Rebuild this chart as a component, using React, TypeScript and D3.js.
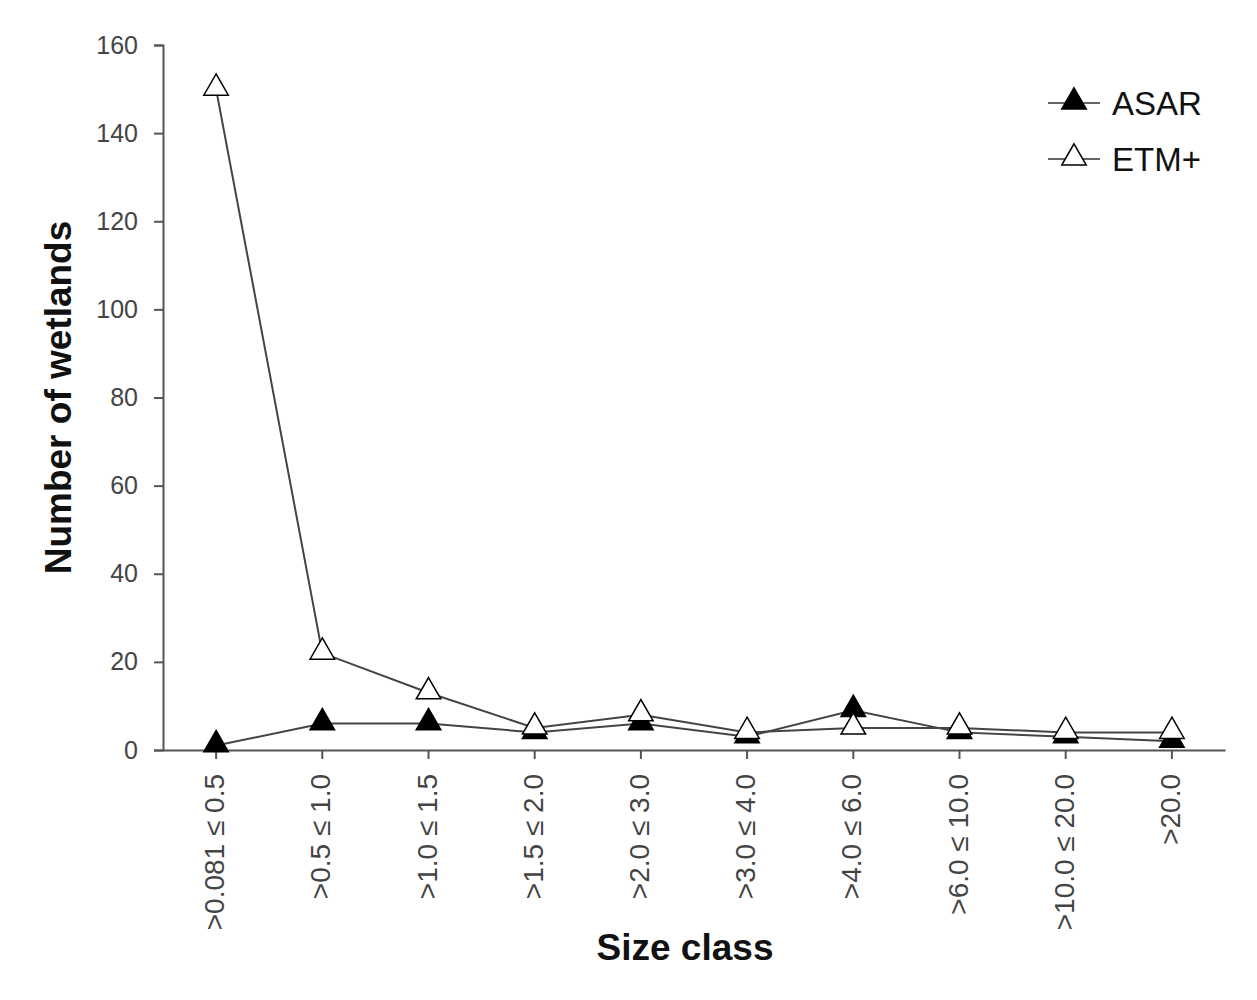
import React, { useEffect, useRef } from 'react';
import * as d3 from 'd3';

const categories = [
    '>0.081 ≤ 0.5', '>0.5 ≤ 1.0', '>1.0 ≤ 1.5', '>1.5 ≤ 2.0', '>2.0 ≤ 3.0',
    '>3.0 ≤ 4.0', '>4.0 ≤ 6.0', '>6.0 ≤ 10.0', '>10.0 ≤ 20.0', '>20.0',
];
const asar = [1, 6, 6, 4, 6, 3, 9, 4, 3, 2];
const etm = [150, 22, 13, 5, 8, 4, 5, 5, 4, 4];
const yTicks = [0, 20, 40, 60, 80, 100, 120, 140, 160];

const width = 1257;
const height = 1000;
const margin = { left: 163, right: 32, top: 45, bottom: 250 };

const App: React.FC = () => {
    const ref = useRef<SVGSVGElement>(null);

    useEffect(() => {
        document.body.style.margin = '0';
        const svg = d3.select(ref.current);
        svg.selectAll('*').remove();

        const x = d3.scaleBand()
            .domain(categories)
            .range([margin.left, width - margin.right]);
        const y = d3.scaleLinear()
            .domain([0, 160])
            .range([height - margin.bottom, margin.top]);

        const font = 'Liberation Sans, Arial, sans-serif';
        const axisColor = '#555';
        const cx = (c: string) => (x(c) as number) + x.bandwidth() / 2;

        // y axis
        const yAxis = svg.append('g')
            .attr('transform', `translate(${margin.left},0)`)
            .call(d3.axisLeft(y).tickValues(yTicks).tickSize(9).tickPadding(16));
        yAxis.select('.domain').attr('stroke', axisColor).attr('stroke-width', 2);
        yAxis.selectAll('line').attr('stroke', axisColor).attr('stroke-width', 2);
        yAxis.selectAll('text')
            .attr('font-family', font).attr('font-size', 25).attr('fill', '#444');

        // x axis
        const xAxis = svg.append('g')
            .attr('transform', `translate(0,${height - margin.bottom})`)
            .call(d3.axisBottom(x).tickSize(9).tickSizeOuter(0).tickFormat(() => ''));
        xAxis.select('.domain').attr('stroke', axisColor).attr('stroke-width', 2);
        xAxis.selectAll('line').attr('stroke', axisColor).attr('stroke-width', 2);

        svg.append('g')
            .selectAll('text')
            .data(categories)
            .enter()
            .append('text')
            .attr('transform', d => `translate(${cx(d) + 8},${height - margin.bottom + 24}) rotate(-90)`)
            .attr('text-anchor', 'end')
            .attr('font-family', font)
            .attr('font-size', 28)
            .attr('fill', '#444')
            .text(d => d);

        // titles
        svg.append('text')
            .attr('transform', `translate(71,${(margin.top + height - margin.bottom) / 2}) rotate(-90)`)
            .attr('text-anchor', 'middle')
            .attr('font-family', font)
            .attr('font-size', 37)
            .attr('font-weight', 'bold')
            .attr('fill', '#111')
            .text('Number of wetlands');

        svg.append('text')
            .attr('x', 685)
            .attr('y', 960)
            .attr('text-anchor', 'middle')
            .attr('font-family', font)
            .attr('font-size', 37)
            .attr('font-weight', 'bold')
            .attr('fill', '#111')
            .text('Size class');

        const line = d3.line<number>()
            .x((d, i) => cx(categories[i]))
            .y(d => y(d));

        const tri = d3.symbol().type(d3.symbolTriangle).size(260);

        const series = [
            { name: 'ASAR', values: asar, fill: '#000' },
            { name: 'ETM+', values: etm, fill: '#fff' },
        ];

        series.forEach(s => {
            svg.append('path')
                .datum(s.values)
                .attr('d', line)
                .attr('fill', 'none')
                .attr('stroke', '#444')
                .attr('stroke-width', 2);
        });

        series.forEach(s => {
            svg.append('g')
                .selectAll('path')
                .data(s.values)
                .enter()
                .append('path')
                .attr('d', tri)
                .attr('transform', (d, i) => `translate(${cx(categories[i])},${y(d) - 1})`)
                .attr('fill', s.fill)
                .attr('stroke', '#000')
                .attr('stroke-width', 1.5);
        });

        // legend
        const legend = svg.append('g')
            .selectAll('g')
            .data(series)
            .enter()
            .append('g')
            .attr('transform', (d, i) => `translate(1048,${103 + i * 56})`);

        legend.append('line')
            .attr('x1', 0).attr('x2', 52)
            .attr('stroke', '#666').attr('stroke-width', 2);

        legend.append('path')
            .attr('d', tri)
            .attr('transform', 'translate(26,-1)')
            .attr('fill', d => d.fill)
            .attr('stroke', '#000')
            .attr('stroke-width', 1.5);

        legend.append('text')
            .attr('x', 64)
            .attr('y', 12)
            .attr('font-family', font)
            .attr('font-size', 33)
            .attr('fill', '#111')
            .text(d => d.name);
    }, []);

    return <svg ref={ref} width={width} height={height}></svg>;
};

export default App;
